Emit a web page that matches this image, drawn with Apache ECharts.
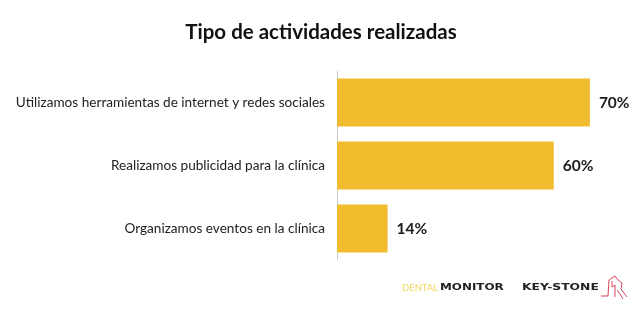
<!DOCTYPE html>
<html>
<head>
<meta charset="utf-8">
<script src="https://cdn.jsdelivr.net/npm/echarts@6/dist/echarts.min.js"></script>
<style>
  html, body { margin: 0; padding: 0; background: #fff; }
  #chart { width: 642px; height: 322px; }
</style>
</head>
<body>
<div id="chart"></div>
<script>
// Categories listed bottom-to-top (category axis on y starts at the bottom)
const categories = [
  'Organizamos eventos en la clínica',
  'Realizamos publicidad para la clínica',
  'Utilizamos herramientas de internet y redes sociales'
];
const values = [14, 60, 70];

const FONT = 'Lato, "Open Sans", sans-serif';
const chart = echarts.init(document.getElementById('chart'));

chart.setOption({
  backgroundColor: '#ffffff',
  animation: false,
  title: {
    text: 'Tipo de actividades realizadas',
    left: 'center',
    top: 17,
    textStyle: { fontFamily: FONT, fontSize: 20.5, fontWeight: 'bold', color: '#111' }
  },
  grid: { left: 337, top: 71, width: 289, height: 189 },
  xAxis: {
    type: 'value', min: 0, max: 80,
    show: false
  },
  yAxis: {
    type: 'category',
    data: categories,
    axisLine: { show: true, lineStyle: { color: '#c8c8c8', width: 1 } },
    axisTick: { show: false },
    axisLabel: { fontFamily: FONT, fontSize: 13.6, color: '#222', margin: 12 }
  },
  series: [{
    type: 'bar',
    data: values,
    barCategoryGap: '24%',
    itemStyle: { color: '#f0bc2e' },
    label: {
      show: true,
      position: 'right',
      distance: 9,
      formatter: '{c}%',
      fontFamily: FONT, fontSize: 15.5, fontWeight: 'bold', color: '#1a1a1a'
    }
  }],
  graphic: [
    // DENTAL MONITOR mark
    { type: 'text', x: 402, y: 288, scaleX: 1.05,
      style: { text: 'DENTAL', fontFamily: FONT, fontSize: 9, fill: '#f2d65a', verticalAlign: 'middle' } },
    { type: 'text', x: 440, y: 288, scaleX: 1.4,
      style: { text: 'MONITOR', fontFamily: '"DejaVu Sans", sans-serif', fontSize: 8.5, fontWeight: 'bold', fill: '#222', verticalAlign: 'middle' } },
    // KEY-STONE mark with building outline
    { type: 'text', x: 522, y: 288, scaleX: 1.3,
      style: { text: 'KEY-STONE', fontFamily: '"DejaVu Sans", sans-serif', fontSize: 9.5, fontWeight: 'bold', fill: '#222', verticalAlign: 'middle' } },
    { type: 'polyline', shape: { points: [[601, 296], [608, 296], [609, 280], [615, 276], [618, 280], [622, 283], [621, 289], [627, 297]] },
      style: { stroke: '#d9475a', lineWidth: 1, fill: null } },
    { type: 'polyline', shape: { points: [[612, 281], [612, 287], [615, 285], [615, 297]] },
      style: { stroke: '#d9475a', lineWidth: 1, fill: null } },
    { type: 'polyline', shape: { points: [[617, 290], [620, 294], [623, 299]] },
      style: { stroke: '#d9475a', lineWidth: 1, fill: null } }
  ]
});
</script>
</body>
</html>
